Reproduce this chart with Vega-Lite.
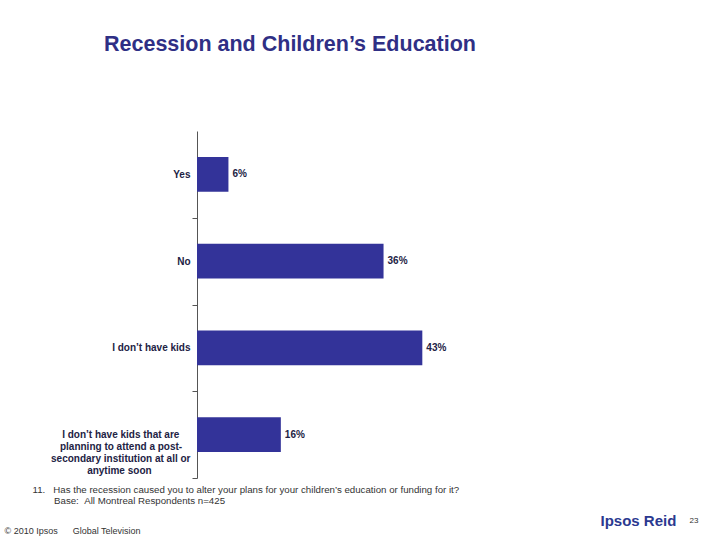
{
  "$schema": "https://vega.github.io/schema/vega-lite/v6.json",
  "width": 262,
  "height": 347,
  "autosize": {"type": "none"},
  "padding": {"left": 197, "top": 131, "right": 261, "bottom": 62},
  "background": "white",
  "config": {"view": {"stroke": null}},
  "title": {
    "text": "Recession and Children’s Education",
    "anchor": "start",
    "frame": "group",
    "dx": -93,
    "offset": 76,
    "fontSize": 21.5,
    "fontWeight": "bold",
    "color": "#2f2f85",
    "font": "Liberation Sans"
  },
  "data": {
    "values": [
      {"answer": "Yes", "share": 0.06},
      {"answer": "No", "share": 0.356},
      {"answer": "I don’t have kids", "share": 0.43},
      {"answer": "I don’t have kids that are planning to attend a post-secondary institution at all or anytime soon", "share": 0.16}
    ]
  },
  "layer": [
    {
      "mark": {"type": "bar", "color": "#333399"},
      "encoding": {
        "y": {
          "field": "answer",
          "type": "nominal",
          "sort": null,
          "scale": {"paddingInner": 0.6, "paddingOuter": 0.3},
          "axis": {
            "orient": "left",
            "labelExpr": "indexof(datum.value, 'post') >= 0 ? ['I don’t have kids that are\u00a0\u00a0\u00a0\u00a0\u200b', 'planning to attend a post-\u00a0\u00a0\u00a0\u200b', 'secondary institution at all or', 'anytime soon\u00a0\u00a0\u00a0\u00a0\u00a0\u00a0\u00a0\u00a0\u00a0\u00a0\u00a0\u00a0\u00a0\u00a0\u200b'] : datum.value",
            "labelAlign": "right",
            "labelPadding": 2,
            "labelBaseline": "middle",
            "labelLineHeight": 12,
            "labelFont": "Liberation Sans",
            "labelFontSize": 10,
            "labelFontWeight": "bold",
            "labelColor": "#222244",
            "labelLimit": 300,
            "tickOffset": 43.375,
            "labelOffset": -43.375,
            "tickSize": 5,
            "tickColor": "#555555",
            "domainColor": "#555555",
            "grid": false,
            "title": "23",
            "titleAngle": 0,
            "titleX": 492,
            "titleY": 389,
            "titleAlign": "left",
            "titleBaseline": "middle",
            "titleFont": "Liberation Sans",
            "titleFontSize": 8,
            "titleFontWeight": "normal",
            "titleColor": "#333333"
          }
        },
        "x": {
          "field": "share",
          "type": "quantitative",
          "scale": {"domain": [0, 0.5]},
          "axis": {
            "orient": "bottom",
            "labels": false,
            "ticks": false,
            "domain": false,
            "grid": false,
            "title": [
              "11.\u00a0\u00a0\u00a0Has the recession caused you to alter your plans for your children’s education or funding for it?",
              "\u200b\u00a0\u00a0\u00a0\u00a0\u00a0\u00a0\u00a0\u00a0Base:\u00a0\u00a0All Montreal Respondents n=425"
            ],
            "titleX": -165,
            "titleY": 6,
            "titleAlign": "left",
            "titleBaseline": "top",
            "titleLineHeight": 11.5,
            "titleFont": "Liberation Sans",
            "titleFontSize": 9.7,
            "titleFontWeight": "normal",
            "titleColor": "#333333"
          }
        }
      }
    },
    {
      "mark": {"type": "text", "align": "left", "baseline": "middle", "dx": 4, "fontWeight": "bold", "fontSize": 10, "color": "#222244", "font": "Liberation Sans"},
      "encoding": {
        "y": {
          "field": "answer",
          "type": "nominal",
          "sort": null,
          "axis": {
            "orient": "right",
            "labels": false,
            "ticks": false,
            "domain": false,
            "grid": false,
            "title": "Ipsos Reid",
            "titleAngle": 0,
            "titleX": 141,
            "titleY": 389,
            "titleAlign": "left",
            "titleBaseline": "middle",
            "titleFont": "Liberation Sans",
            "titleFontSize": 15,
            "titleFontWeight": "bold",
            "titleColor": "#2b3990"
          }
        },
        "x": {
          "field": "share",
          "type": "quantitative",
          "axis": {
            "orient": "top",
            "labels": false,
            "ticks": false,
            "domain": false,
            "grid": false,
            "title": "© 2010 Ipsos\u00a0\u00a0\u00a0\u00a0\u00a0\u00a0Global Television",
            "titleX": -193,
            "titleY": 399,
            "titleAlign": "left",
            "titleBaseline": "middle",
            "titleFont": "Liberation Sans",
            "titleFontSize": 9,
            "titleFontWeight": "normal",
            "titleColor": "#333333"
          }
        },
        "text": {"field": "share", "type": "quantitative", "format": ".0%"}
      }
    }
  ],
  "resolve": {"axis": {"x": "independent", "y": "independent"}}
}
